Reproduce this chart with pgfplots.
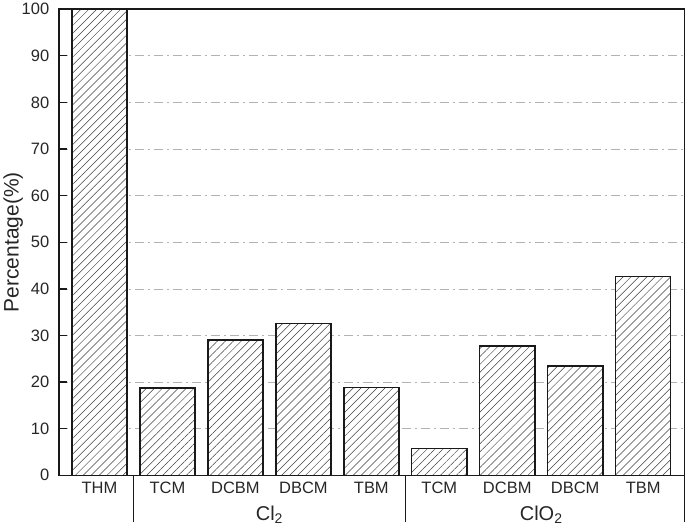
\documentclass[border=0pt]{standalone}
\usepackage{fontspec}
\setmainfont{Liberation Sans}
\usepackage{pgfplots}
\pgfplotsset{compat=1.18}
\usetikzlibrary{patterns.meta}
\begin{document}
\begin{tikzpicture}
\begin{axis}[
  scale only axis, width=624bp, height=465bp,
  xmin=-0.6, xmax=8.605, ymin=0, ymax=100,
  ybar, bar width=55bp,
  ytick={0,10,...,100},
  xtick={0,1,2,3,4,5,6,7,8},
  xticklabels={THM,TCM,DCBM,DBCM,TBM,TCM,DCBM,DBCM,TBM},
  tick pos=left, tick align=inside,
  major tick length=8bp,
  tick style={line width=1.4bp, black!90},
  ymajorgrids,
  grid style={line width=0.6bp, black!30, dash pattern=on 9bp off 4bp on 2bp off 4bp},
  axis line style={line width=1.5bp, black!90},
  ylabel={Percentage(\%)},
  ylabel style={font=\fontsize{21}{24}\selectfont, black!85, yshift=-8bp},
  tick label style={font=\fontsize{16.5}{19}\selectfont, black!85},
  yticklabel style={xshift=-6bp},
  xticklabel style={yshift=-3bp},
  /pgf/number format/assume math mode=true,
  clip=false,
]
\addplot[draw=black!90, line width=1.5bp, fill=white,
  postaction={pattern={Lines[angle=45,distance=5.6bp,line width=0.5bp]}, pattern color=black!75}]
  coordinates {(0,100) (1,18.7) (2,29.0) (3,32.6) (4,18.8) (5,5.7) (6,27.7) (7,23.4) (8,42.6)};
\draw[line width=1.5bp, black!90] (axis cs:0.5,0) -- ([yshift=-47bp]axis cs:0.5,0);
\draw[line width=1.5bp, black!90] (axis cs:4.5,0) -- ([yshift=-47bp]axis cs:4.5,0);
\draw[line width=1.5bp, black!90] (rel axis cs:1,0) -- ([yshift=-47bp]rel axis cs:1,0);
\node[anchor=base, font=\fontsize{20}{24}\selectfont, black!85] at ([yshift=-45bp]axis cs:2.5,0) {Cl\textsubscript{2}};
\node[anchor=base, font=\fontsize{20}{24}\selectfont, black!85] at ([yshift=-45bp]axis cs:6.5,0) {ClO\textsubscript{2}};
\end{axis}
\end{tikzpicture}
\end{document}
